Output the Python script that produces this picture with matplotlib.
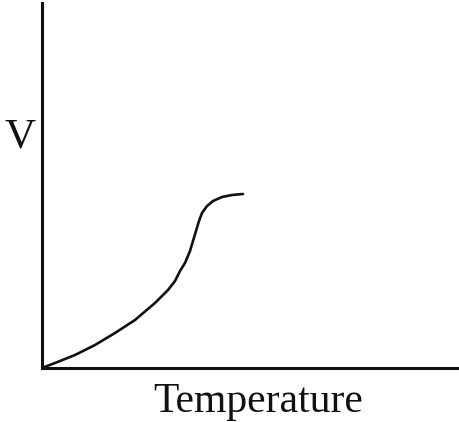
import matplotlib
matplotlib.use("Agg")
import matplotlib.pyplot as plt

# Data (arbitrary units)
temperature = [0, 13, 33, 53, 73, 93, 113, 126, 133, 138, 143, 148, 151, 154, 157, 160, 165, 171, 180, 190, 201]
volume = [0, 5, 13, 23, 35, 48, 65, 78, 87, 97, 105, 117, 127, 137, 147, 155, 162, 167, 171, 173, 174]
x_label = "Temperature"
y_label = "V"

W, H = 459, 422
fig = plt.figure(figsize=(W / 100, H / 100), dpi=100)
fig.patch.set_facecolor("white")

ax = fig.add_axes([42 / W, 1 - 368 / H, (W - 42) / W, (368 - 3) / H])
ax.set_xlim(0, 417)
ax.set_ylim(0, 365)
ax.plot(temperature, volume, color="#111111", lw=1.9,
        solid_capstyle="round", solid_joinstyle="round")

for s in ["top", "right"]:
    ax.spines[s].set_visible(False)
for s in ["left", "bottom"]:
    ax.spines[s].set_linewidth(2.2)
    ax.spines[s].set_color("#111111")
ax.set_xticks([])
ax.set_yticks([])
ax.set_facecolor("none")

fig.text(20 / W, 1 - 147 / H, y_label, family="Liberation Serif", fontsize=31,
         ha="center", va="baseline", color="#111111")
fig.text(258 / W, 1 - 412 / H, x_label, family="Liberation Serif", fontsize=30,
         ha="center", va="baseline", color="#111111")

fig.savefig("out.png", dpi=100, facecolor="white")
